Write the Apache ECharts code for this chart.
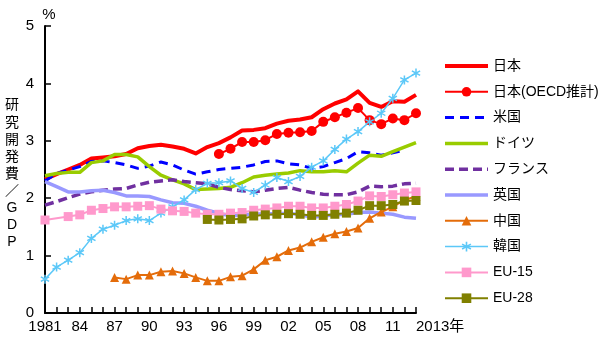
<!DOCTYPE html>
<html>
<head>
<meta charset="utf-8">
<script src="https://cdn.jsdelivr.net/npm/echarts@6/dist/echarts.min.js"></script>
<style>
  html, body { margin: 0; padding: 0; background: #fff; }
  #chart { width: 600px; height: 337px; }
</style>
</head>
<body>
<div id="chart"></div>
<script>
// R&D expenditure as a share of GDP (%), 1981-2013
const years = [];
for (let y = 1981; y <= 2013; y++) years.push(String(y));

const japan = [2.33,2.42,2.50,2.58,2.69,2.71,2.73,2.77,2.87,2.91,2.93,2.90,2.86,2.78,2.89,2.96,3.06,3.18,3.19,3.22,3.30,3.35,3.37,3.41,3.55,3.65,3.72,3.86,3.66,3.59,3.69,3.68,3.80];
const japanOECD = [null,null,null,null,null,null,null,null,null,null,null,null,null,null,null,
  2.77,2.86,2.98,2.98,3.01,3.12,3.14,3.15,3.17,3.33,3.41,3.49,3.57,3.36,3.29,3.39,3.36,3.48];
const usa = [2.30,2.43,2.49,2.55,2.64,2.65,2.62,2.58,2.52,2.56,2.63,2.58,2.49,2.42,2.46,2.50,2.52,2.54,2.58,2.64,2.65,2.60,2.58,2.52,2.55,2.62,2.69,2.81,2.79,2.75,2.79,2.84,null];
const germany = [2.39,2.43,2.45,2.45,2.62,2.65,2.76,2.76,2.72,2.55,2.40,2.32,2.25,2.15,2.16,2.17,2.19,2.27,2.37,2.40,2.42,2.44,2.48,2.46,2.46,2.48,2.46,2.61,2.75,2.73,2.81,2.89,2.97];
const france = [1.88,1.94,2.01,2.07,2.11,2.14,2.16,2.17,2.23,2.28,2.30,2.32,2.29,2.27,2.25,2.19,2.15,2.13,2.11,2.14,2.17,2.19,2.14,2.10,2.07,2.06,2.06,2.11,2.21,2.20,2.21,2.25,2.26];
const uk = [2.29,2.20,2.11,2.11,2.13,2.14,2.10,2.04,2.04,2.03,1.97,1.92,1.91,1.86,1.79,1.74,1.69,1.71,1.72,1.73,1.73,1.74,1.71,1.67,1.69,1.71,1.72,1.75,1.76,1.74,1.72,1.67,1.65];
const china = [null,null,null,null,null,null,
  0.62,0.59,0.66,0.66,0.72,0.73,0.69,0.62,0.56,0.56,0.63,0.65,0.76,0.92,0.98,1.09,1.14,1.24,1.32,1.38,1.42,1.48,1.65,1.76,1.85,1.97,2.03];
const korea = [0.59,0.80,0.92,1.05,1.30,1.46,1.53,1.61,1.64,1.61,1.74,1.85,1.97,2.15,2.26,2.27,2.30,2.17,2.10,2.23,2.36,2.29,2.38,2.54,2.65,2.85,3.03,3.16,3.33,3.48,3.74,4.06,4.18];
const eu15 = [1.62,null,1.68,1.71,1.79,1.82,1.85,1.85,1.86,1.87,1.81,1.78,1.77,1.74,1.72,1.72,1.74,1.75,1.79,1.81,1.83,1.86,1.86,1.83,1.83,1.86,1.89,1.95,2.04,2.03,2.06,2.09,2.11];
const eu28 = [null,null,null,null,null,null,null,null,null,null,null,null,null,null,
  1.63,1.62,1.63,1.64,1.69,1.71,1.72,1.73,1.72,1.70,1.70,1.72,1.74,1.79,1.87,1.87,1.89,1.95,1.96];

const yTicks = { min: 0, max: 5, step: 1 };

const FONT = '"Liberation Sans", Arial, "Noto Sans CJK JP", sans-serif';
const asterisk = 'path://M-0.8,-5L0.8,-5L0.8,5L-0.8,5ZM3.93,-3.19L4.73,-1.81L-3.93,3.19L-4.73,1.81ZM-4.73,-1.81L-3.93,-3.19L4.73,1.81L3.93,3.19Z';

function plain(name, data, color, width, type) {
  return {
    name, type: 'line', data, symbol: 'none', connectNulls: true,
    lineStyle: { color, width, type: type || 'solid', cap: 'butt', join: 'round' },
    itemStyle: { color }
  };
}
function marked(name, data, color, width, symbol, size) {
  return {
    name, type: 'line', data, symbol, symbolSize: size,
    showSymbol: true, showAllSymbol: true, connectNulls: true,
    lineStyle: { color, width, join: 'round' },
    itemStyle: { color, borderWidth: 0 }
  };
}

// legend entries: plain lines show only the stroke, at the series' own width
const lineOnly = (name, width) => ({ name, itemStyle: { opacity: 0 }, lineStyle: { width } });
const withMark = (name, width) => ({ name, lineStyle: { width } });

const chart = echarts.init(document.getElementById('chart'), null, { renderer: 'canvas' });
chart.setOption({
  animation: false,
  backgroundColor: '#ffffff',
  textStyle: { fontFamily: FONT, color: '#000' },
  grid: { left: 45, right: 184, top: 26, bottom: 24, containLabel: false },
  legend: {
    orient: 'vertical', left: 443, top: 59, padding: 0,
    itemWidth: 43, itemHeight: 12, itemGap: 11.8,
    textStyle: { fontSize: 14, color: '#000', fontFamily: FONT },
    data: [
      lineOnly('日本', 4), withMark('日本(OECD推計)', 2), lineOnly('米国', 3), lineOnly('ドイツ', 3.5),
      lineOnly('フランス', 3.5), lineOnly('英国', 3.5), withMark('中国', 2), withMark('韓国', 1.5),
      withMark('EU-15', 2), withMark('EU-28', 2)
    ]
  },
  graphic: [{
    type: 'text', left: 5, top: 97,
    style: {
      text: ['研', '究', '開', '発', '費', '／', 'G', 'D', 'P'].join('\n'),
      font: '14px ' + FONT, lineHeight: 17.1, fill: '#000', textAlign: 'center', width: 14
    }
  }],
  xAxis: {
    type: 'category', data: years, boundaryGap: false,
    axisLine: { lineStyle: { color: '#000', width: 2 } },
    axisTick: { inside: true, length: 6, interval: 0, lineStyle: { color: '#000', width: 1.5 } },
    axisLabel: {
      fontSize: 15, color: '#000', margin: 6, alignMaxLabel: 'left',
      interval: (i) => i % 3 === 0 || i === years.length - 1,
      formatter: (v, i) => i === 0 ? v : (i === years.length - 1 ? v + '年' : v.slice(2))
    },
    splitLine: { show: false }
  },
  yAxis: {
    type: 'value', min: yTicks.min, max: yTicks.max, interval: yTicks.step,
    name: '%', nameLocation: 'end', nameGap: 4,
    nameTextStyle: { fontSize: 15, color: '#000', align: 'center', padding: [0, 0, 0, 8] },
    axisLine: { show: true, lineStyle: { color: '#000', width: 2 } },
    axisTick: { show: true, inside: true, length: 6, lineStyle: { color: '#000', width: 1.5 } },
    axisLabel: { fontSize: 15, color: '#000', margin: 11 },
    splitLine: { show: false }
  },
  series: [
    plain('日本', japan, '#ff0000', 4),
    marked('日本(OECD推計)', japanOECD, '#ff0000', 2, 'circle', 10),
    plain('米国', usa, '#0000ff', 3, [9, 6]),
    plain('ドイツ', germany, '#99cc00', 3.5),
    plain('フランス', france, '#7030a0', 3.5, [9, 5]),
    plain('英国', uk, '#9999ff', 3.5),
    marked('中国', china, '#e46c0a', 2, 'triangle', 9),
    marked('韓国', korea, '#5cc8f8', 1.5, asterisk, 9),
    marked('EU-15', eu15, '#ff99cc', 2, 'rect', 9),
    marked('EU-28', eu28, '#808000', 2, 'rect', 9)
  ]
});
</script>
</body>
</html>
